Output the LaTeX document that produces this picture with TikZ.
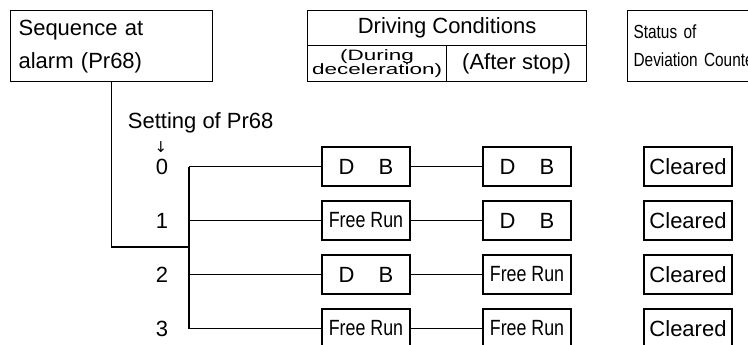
\documentclass[tikz,border=0pt]{standalone}
\usepackage{fontspec}
\setmainfont{Liberation Sans}
\newfontfamily\narrowfont[FakeStretch=0.81]{Liberation Sans}
\newfontfamily\widefont[FakeStretch=1.5]{Liberation Sans}
\newfontfamily\symfont{DejaVu Sans}
\usetikzlibrary{positioning}

\begin{document}
\begin{tikzpicture}[x=1pt, y=-1pt, font=\fontsize{22}{26}\selectfont,
    line width=1.2pt, node distance=54pt and 161pt, on grid,
    cond/.style={draw, minimum width=88pt, minimum height=39pt, inner sep=0pt},
    frun/.style={cond, font=\narrowfont\fontsize{22}{26}\selectfont},
    head/.style={draw, anchor=north west, inner sep=0pt}]
  \useasboundingbox (0,0) rectangle (748,345);
  \clip (0,0) rectangle (748,345);
  % headings
  \node[head, minimum width=202pt, minimum height=71pt, text width=186pt,
    inner xsep=8pt, align=left, font=\fontsize{22}{33}\selectfont]
    (seq) at (10,10) {Sequence at\\alarm (Pr68)};
  \node[head, minimum width=279pt, minimum height=35pt] (drv) at (307,10) {Driving Conditions};
  \node[head, minimum width=139pt, minimum height=36pt, align=center,
    font=\widefont\fontsize{15}{14}\selectfont] (dec) at (307,45) {(During\\deceleration)};
  \node[head, minimum width=140pt, minimum height=36pt] (aft) at (446,45) {(After stop)};
  \node[head, minimum width=150pt, minimum height=71pt, text width=138pt,
    inner xsep=6pt, align=left, font=\narrowfont\fontsize{19}{28}\selectfont]
    (dev) at (627,10) {Status of\\Deviation Counter};
  \node[anchor=west] (set) at (124,123) {Setting of Pr68};
  \node[font=\symfont\fontsize{15}{15}\selectfont] (arr) at (161,147) {↓};
  % settings of Pr68
  \node (s0) at (162,166.5) {0};
  \node[below=of s0] (s1) {1};
  \node[below=of s1] (s2) {2};
  \node[below=of s2] (s3) {3};
  \node[cond, right=204pt of s0] (a0) {D\hspace{1.1em}B};
  \node[frun, right=204pt of s1] (a1) {Free Run};
  \node[cond, right=204pt of s2] (a2) {D\hspace{1.1em}B};
  \node[frun, right=204pt of s3] (a3) {Free Run};
  \node[cond, right=of a0] (b0) {D\hspace{1.1em}B};
  \node[cond, right=of a1] (b1) {D\hspace{1.1em}B};
  \node[frun, right=of a2] (b2) {Free Run};
  \node[frun, right=of a3] (b3) {Free Run};
  \node[cond, right=of b0] (c0) {Cleared};
  \node[cond, right=of b1] (c1) {Cleared};
  \node[cond, right=of b2] (c2) {Cleared};
  \node[cond, right=of b3] (c3) {Cleared};
  % wiring
  \coordinate (bus) at (189,247);
  \draw (seq.south) |- (bus);
  \draw (bus |- s0) -- (bus |- s3);
  \draw (bus |- s0) -- (a0) -- (b0);
  \draw (bus |- s1) -- (a1) -- (b1);
  \draw (bus |- s2) -- (a2) -- (b2);
  \draw (bus |- s3) -- (a3) -- (b3);
\end{tikzpicture}
\end{document}
